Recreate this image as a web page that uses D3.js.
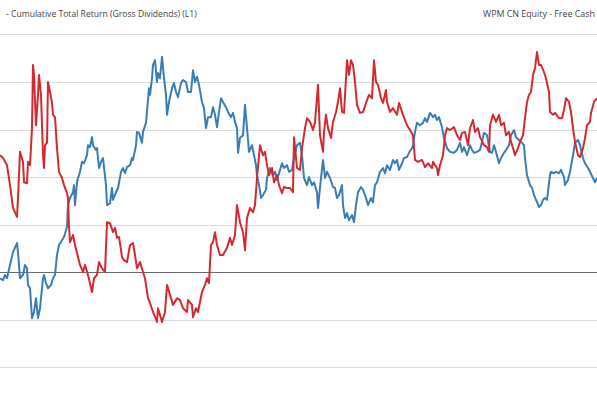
<!DOCTYPE html>
<html>
<head>
<meta charset="utf-8">
<script src="https://cdn.jsdelivr.net/npm/d3@7"></script>
<style>
  html, body { margin: 0; padding: 0; background: #fff; }
  svg { display: block; font-family: "Open Sans", sans-serif; }
</style>
</head>
<body>
<svg id="chart" width="597" height="398"></svg>
<script>
// series: [day, value %]
const totalReturn = [
  [0,24.6],[3,24.0],[7,22.5],[10,18.3],[13,13.5],[17,11.6],[18,15.6],[20,25.3],[23,23.2],[24,18.9],
  [27,18.7],[28,23.2],[30,22.5],[32,30.3],[33,43.6],[34,41.5],[36,30.9],[38,37.3],[39,41.5],[41,37.3],
  [43,24.6],[44,21.9],[45,26.7],[47,27.2],[48,40.0],[50,37.9],[52,35.6],[53,33.1],[55,32.6],[57,26.1],
  [59,21.1],[62,19.8],[64,18.3],[67,16.6],[68,15.6],[69,9.5],[70,6.3],[73,7.8],[75,5.7],[77,4.0],
  [80,1.5],[83,0],[85,1.5],[88,-0.6],[92,-4.2],[94,-1.3],[97,-0.6],[99,2.1],[102,0.8],[105,0],
  [107,10.5],[110,10.3],[113,8.4],[115,9.3],[117,7.2],[119,7.4],[122,3.2],[124,2.5],[127,2.1],[130,5.7],
  [133,6.1],[135,3.6],[137,0.8],[140,2.1],[143,0],[145,-1.3],[148,-5.5],[150,-6.5],[153,-8.4],[157,-10.5],
  [158,-7.6],[162,-10.5],[165,-8.4],[167,-2.7],[170,-4.8],[173,-6.9],[177,-5.5],[180,-5.9],[183,-7.6],[187,-8.4],
  [188,-5.9],[192,-6.9],[193,-9.5],[196,-7.6],[198,-8.4],[202,-4.2],[205,-2.7],[207,-1.3],[209,-2.3],[211,5.7],
  [213,6.3],[215,8.4],[217,5.7],[220,3.6],[223,3.6],[227,5.1],[230,7.2],[232,5.7],[235,7.8],[237,14.1],
  [240,10.5],[243,8.4],[245,4.6],[247,11.4],[250,13.5],[253,12.6],[255,14.1],[257,19.8],[260,26.7],[263,24.6],
  [265,25.3],[267,22.5],[269,20.4],[272,21.9],[274,18.9],[277,20.4],[279,18.3],[282,16.6],[284,17.9],[287,17.7],
  [290,17.7],[293,16.8],[294,28.4],[297,21.9],[300,21.5],[302,26.1],[305,30.3],[307,32.4],[310,31.6],[313,29.9],
  [315,31.6],[318,39.4],[320,28.8],[323,25.3],[324,29.5],[326,33.1],[328,30.3],[331,28.2],[333,31.6],[336,33.7],
  [338,35.8],[340,38.7],[342,33.7],[344,33.5],[346,40.8],[347,44.6],[349,41.5],[351,44.6],[353,43.6],[355,40.0],
  [357,35.2],[360,33.5],[363,33.7],[367,36.2],[369,37.3],[372,36.6],[374,44.6],[376,40.0],[378,39.4],[381,36.6],
  [383,35.6],[386,38.3],[387,35.8],[390,33.7],[393,34.5],[397,33.1],[399,35.6],[402,33.7],[405,32.0],[407,30.9],
  [410,29.9],[413,28.8],[415,23.6],[418,23.2],[422,23.6],[425,22.1],[428,22.9],[432,21.9],[433,23.2],[437,21.9],
  [438,20.4],[440,22.5],[443,24.6],[445,28.8],[447,30.3],[450,29.9],[454,30.5],[457,28.8],[460,27.8],[462,29.3],
  [465,29.5],[468,26.7],[470,30.3],[473,32.0],[475,29.5],[478,30.3],[480,28.4],[484,26.7],[487,26.3],[489,25.3],
  [490,30.9],[493,33.1],[496,31.6],[499,33.1],[501,30.9],[504,31.4],[506,28.8],[509,29.5],[511,27.4],[513,26.1],
  [515,24.6],[518,26.1],[520,27.4],[523,28.8],[525,32.4],[527,35.8],[529,37.3],[531,37.9],[533,41.5],[535,42.9],
  [537,46.3],[539,43.6],[541,43.6],[544,42.1],[546,40.8],[549,37.9],[550,33.7],[553,33.1],[555,33.5],[559,32.4],
  [562,32.4],[564,34.1],[566,36.6],[569,35.8],[571,33.7],[573,30.3],[575,27.4],[578,24.6],[580,24.2],[583,26.1],
  [585,28.2],[587,30.9],[590,31.6],[591,33.5],[594,35.8],[597,36.6]
];

const freeCash = [
  [0,-1.3],[3,-1.7],[5,-0.6],[7,-1.3],[10,1.5],[13,4.2],[17,6.1],[18,4.2],[20,-1.3],[23,-0.6],
  [25,1.5],[27,0.8],[28,-2.7],[30,-3.4],[32,-9.7],[34,-8.4],[36,-5.5],[38,-9.7],[40,-7.6],[43,-1.3],
  [44,-0.6],[46,-2.3],[48,-3.4],[51,-2.7],[53,-1.3],[55,-0.6],[57,3.6],[59,5.7],[62,6.7],[64,7.4],
  [67,9.5],[68,14.1],[70,15.6],[73,16.8],[74,18.3],[75,14.1],[77,18.9],[78,19.8],[80,21.1],[82,23.2],
  [84,22.9],[87,24.6],[88,26.7],[90,26.3],[92,28.4],[93,26.7],[96,25.7],[97,26.1],[99,21.9],[101,23.2],
  [103,24.0],[106,18.3],[107,14.1],[110,14.5],[112,17.7],[113,15.2],[116,16.8],[118,17.7],[121,21.1],[123,21.9],
  [125,20.8],[127,22.1],[130,22.5],[132,24.0],[133,23.6],[136,26.7],[137,29.5],[139,29.3],[142,27.2],[143,29.5],
  [146,31.4],[147,33.7],[149,38.7],[150,37.3],[152,40.8],[153,43.6],[155,44.6],[157,40.0],[158,41.9],[160,40.8],
  [162,45.3],[164,40.8],[166,37.3],[167,33.1],[169,35.8],[172,38.7],[174,39.8],[176,37.9],[178,36.8],[181,39.8],
  [183,40.4],[186,40.0],[188,37.9],[191,37.9],[193,42.5],[195,40.0],[197,41.1],[199,39.4],[202,35.8],[204,34.5],
  [206,30.3],[208,32.6],[211,32.6],[213,34.7],[215,33.1],[217,30.5],[219,33.7],[221,36.6],[223,35.8],[226,34.7],
  [228,33.7],[231,32.6],[233,33.5],[235,31.6],[237,30.3],[238,25.1],[240,28.2],[243,28.8],[245,35.2],[247,30.3],
  [249,25.3],[252,26.7],[254,24.6],[256,22.5],[257,20.4],[259,18.3],[261,15.6],[263,16.2],[266,17.3],[267,19.8],
  [270,21.9],[273,20.4],[275,21.1],[277,19.4],[280,21.5],[282,22.9],[284,21.9],[287,22.5],[289,21.1],[292,21.5],
  [294,24.0],[297,26.7],[300,27.2],[302,24.6],[304,19.8],[307,18.3],[309,20.0],[312,18.3],[314,18.9],[317,16.8],
  [318,13.5],[321,19.8],[323,23.6],[325,19.8],[327,21.1],[330,19.8],[333,17.9],[335,17.7],[337,15.6],[339,16.2],
  [342,18.3],[343,14.1],[345,11.4],[347,12.4],[349,10.9],[352,12.0],[354,10.5],[356,14.1],[358,16.8],[361,17.9],
  [363,17.3],[366,15.6],[368,14.1],[371,15.6],[373,14.7],[375,18.3],[377,18.9],[380,21.1],[383,21.9],[385,20.8],
  [387,22.5],[390,21.5],[393,23.6],[395,22.9],[397,23.6],[399,21.5],[402,22.9],[404,24.0],[407,24.2],[409,25.1],
  [412,26.1],[413,26.7],[415,29.5],[417,31.4],[420,30.9],[423,31.4],[425,32.4],[427,31.6],[430,33.5],[433,32.6],
  [435,33.1],[437,32.0],[439,32.6],[442,30.5],[444,28.2],[447,26.1],[450,25.3],[454,25.1],[457,25.7],[460,27.2],
  [462,25.3],[464,26.3],[467,24.6],[470,26.7],[472,25.7],[474,25.1],[477,25.3],[480,25.7],[482,27.4],[484,29.3],
  [487,28.8],[490,25.3],[492,25.1],[494,26.7],[496,25.3],[499,22.9],[501,24.0],[504,25.1],[506,25.7],[509,26.7],
  [511,28.8],[514,29.9],[516,28.4],[519,27.8],[521,27.4],[524,26.7],[525,24.0],[527,20.4],[530,18.3],[532,17.7],
  [534,16.2],[537,14.7],[539,13.7],[541,14.1],[543,15.2],[545,15.6],[547,15.2],[550,20.4],[551,21.1],[554,20.8],
  [556,21.1],[559,20.8],[561,21.5],[564,20.0],[565,18.3],[568,19.4],[570,21.1],[573,24.6],[575,27.2],[578,27.8],
  [580,26.7],[583,24.0],[585,22.9],[588,21.9],[590,21.1],[593,19.8],[595,18.9],[597,19.8]
];

const gridValues = [-20, -10, 10, 20, 30, 40, 50];
const zeroValue = 0;
const leftTitle = "- Cumulative Total Return (Gross Dividends) (L1)";
const rightTitle = "WPM CN Equity - Free Cash";

const width = 597, height = 398;
const svg = d3.select("#chart");

const x = d3.scaleLinear().domain([0, 597]).range([0, width]);
const y = d3.scaleLinear().domain([-26.5, 57.26]).range([height, 0]);

// gridlines
svg.append("g")
  .selectAll("line")
  .data(gridValues)
  .join("line")
  .attr("x1", 0).attr("x2", width)
  .attr("y1", d => Math.round(y(d)) + 0.5)
  .attr("y2", d => Math.round(y(d)) + 0.5)
  .attr("stroke", "#dcdcdc")
  .attr("stroke-width", 1);

svg.append("line")
  .attr("x1", 0).attr("x2", width)
  .attr("y1", Math.round(y(zeroValue)) + 0.5)
  .attr("y2", Math.round(y(zeroValue)) + 0.5)
  .attr("stroke", "#6b6b6b")
  .attr("stroke-width", 1);

const line = d3.line()
  .x(d => x(d[0]))
  .y(d => y(d[1]));

svg.append("path")
  .datum(freeCash)
  .attr("d", line)
  .attr("fill", "none")
  .attr("stroke", "#3a7db5")
  .attr("stroke-width", 2)
  .attr("stroke-linejoin", "round");

svg.append("path")
  .datum(totalReturn)
  .attr("d", line)
  .attr("fill", "none")
  .attr("stroke", "#d42a2f")
  .attr("stroke-width", 2)
  .attr("stroke-linejoin", "round");

// header texts, sized to fit the space they take
function fitText(sel, target) {
  const w = sel.node().getComputedTextLength();
  const fs = parseFloat(sel.style("font-size"));
  sel.style("font-size", (fs * target / w).toFixed(2) + "px");
}

const lt = svg.append("text")
  .attr("x", 6).attr("y", 17)
  .style("font-size", "10px")
  .attr("fill", "#444")
  .text(leftTitle);
fitText(lt, 191);

const rt = svg.append("text")
  .attr("x", 483).attr("y", 17)
  .style("font-size", "10px")
  .attr("fill", "#444")
  .text(rightTitle);
fitText(rt, 112);
</script>
</body>
</html>
